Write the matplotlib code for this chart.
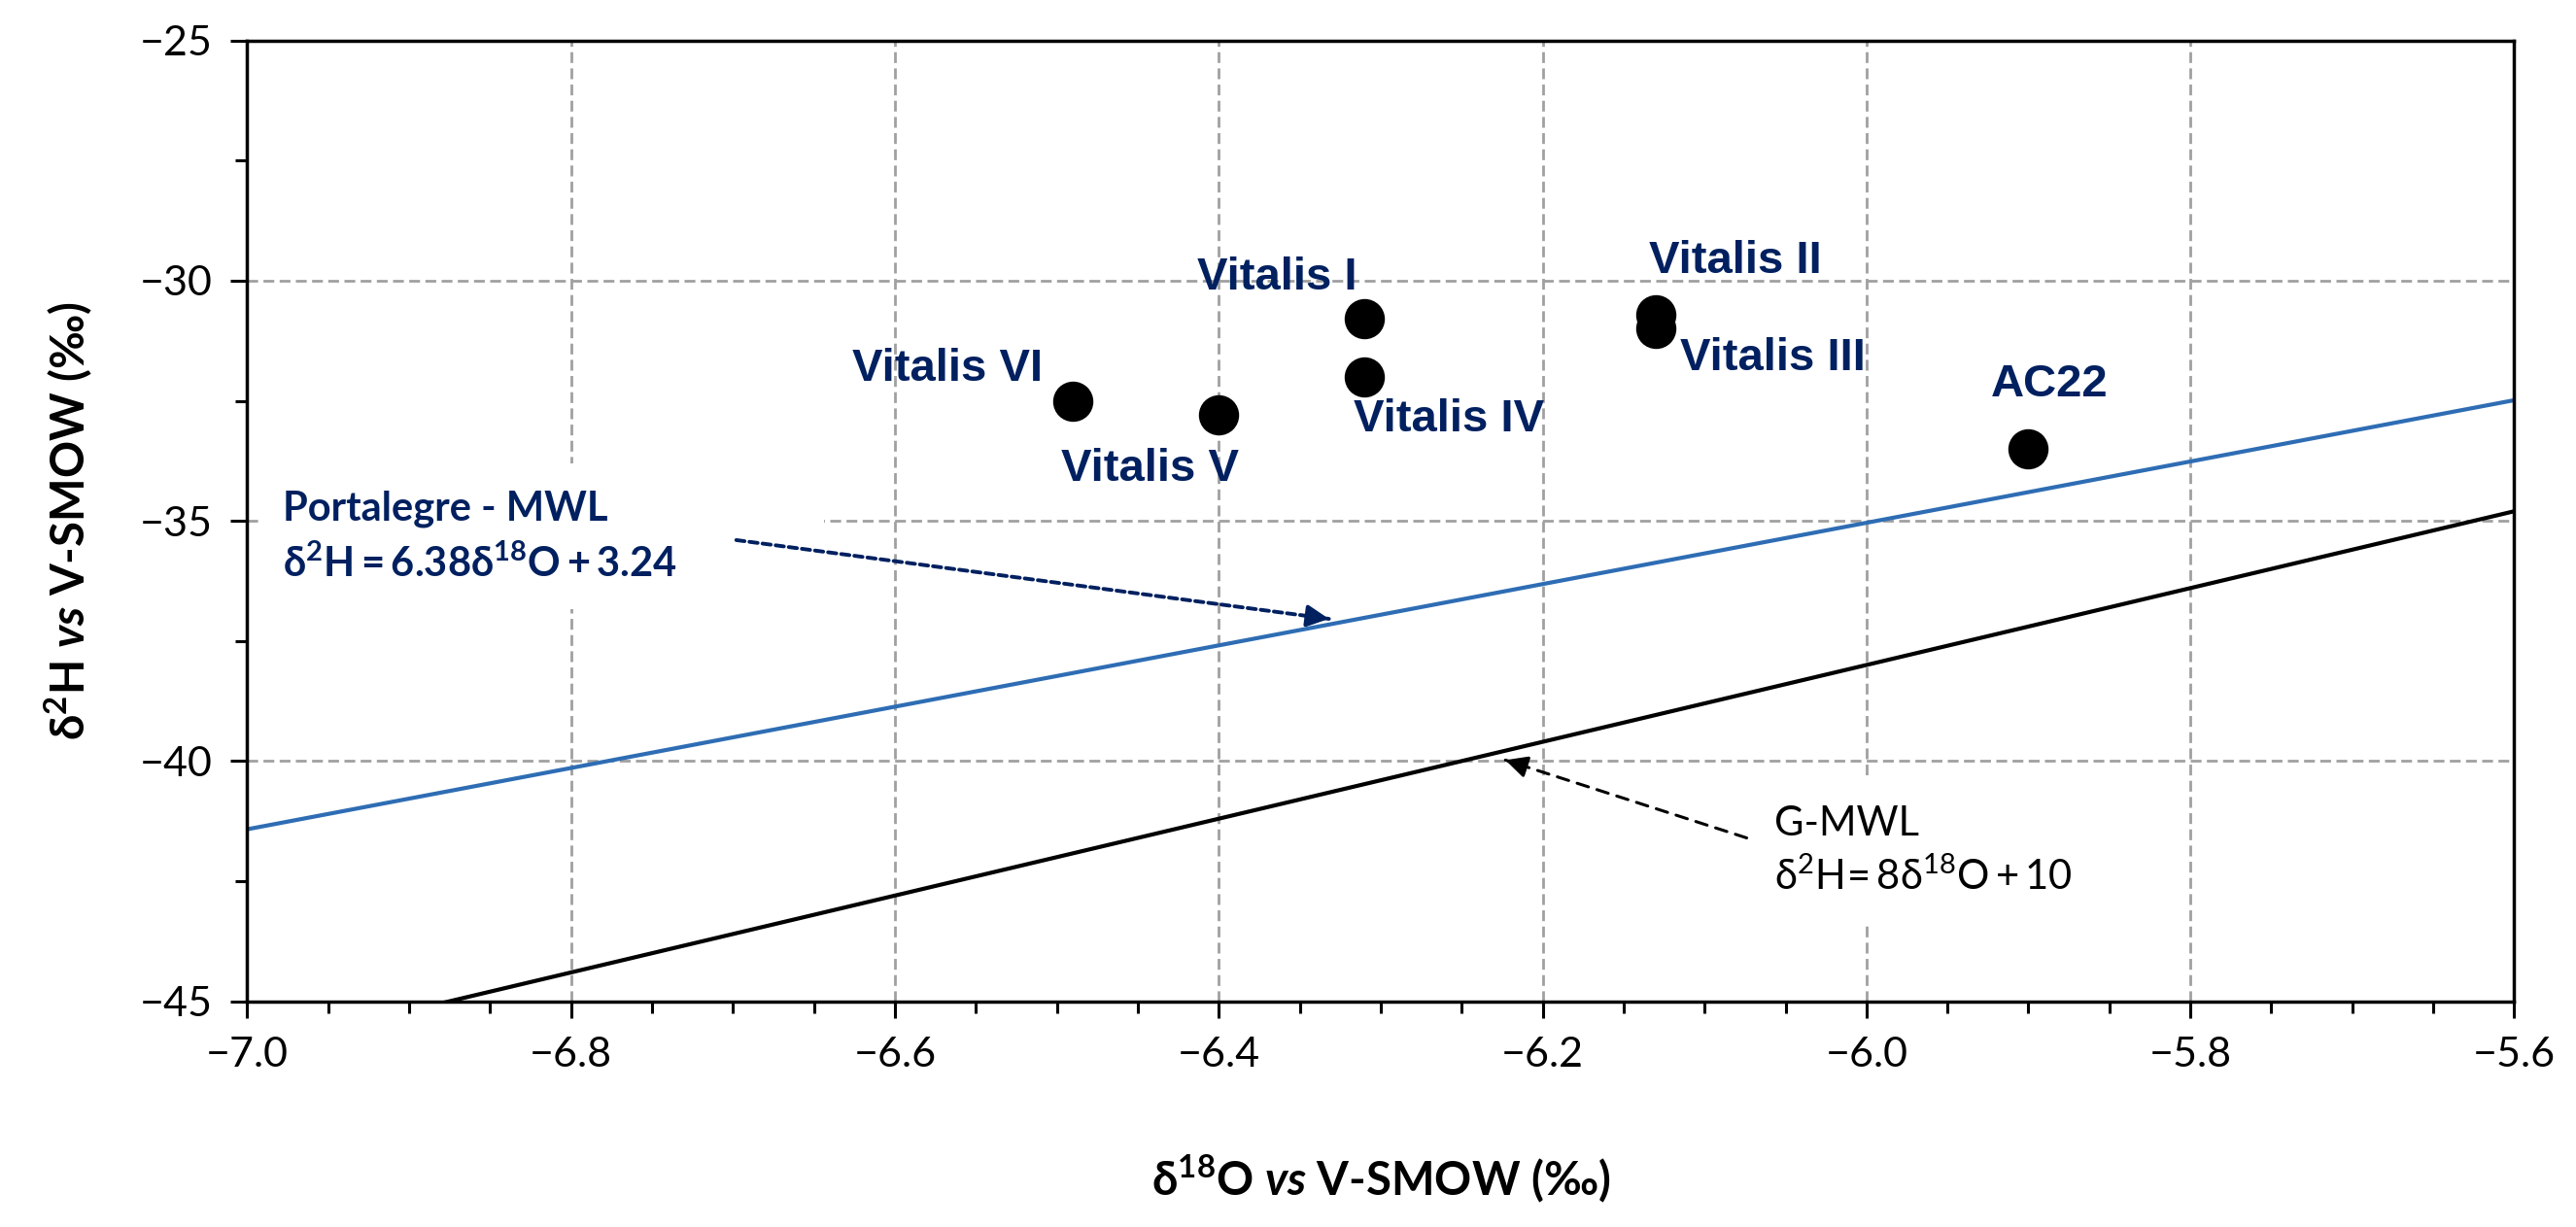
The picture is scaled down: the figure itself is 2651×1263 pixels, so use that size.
import numpy as np
import matplotlib
matplotlib.use("Agg")
import matplotlib.pyplot as plt
from matplotlib.patches import Rectangle
from matplotlib.ticker import FuncFormatter

# sample points
sites = ['Vitalis I', 'Vitalis II', 'Vitalis III', 'Vitalis IV', 'Vitalis V', 'Vitalis VI', 'AC22']
d18O = [-6.31, -6.13, -6.13, -6.31, -6.40, -6.49, -5.90]
d2H = [-30.8, -30.7, -31.0, -32.0, -32.8, -32.5, -33.5]

# meteoric water lines (slope, intercept)
lmwl = (6.38, 3.24)
gmwl = (8.0, 10.0)

x_ticks = [-7.0, -6.8, -6.6, -6.4, -6.2, -6.0, -5.8, -5.6]
y_ticks = [-45, -40, -35, -30, -25]

# label offsets in pixels (label centre relative to point)
label_offsets = [(-90, 42), (82, 55), (120, -31), (87, -44), (-71, -56), (-129, 33), (22, 66)]

navy = '#002060'
blue = '#2E6DB4'
font = 'Lato'

plt.rcParams['font.family'] = [font, 'DejaVu Sans']
plt.rcParams['mathtext.fontset'] = 'custom'
plt.rcParams['mathtext.rm'] = font
plt.rcParams['mathtext.it'] = font + ':italic'
plt.rcParams['mathtext.bf'] = font + ':bold'
plt.rcParams['mathtext.bfit'] = font + ':bold:italic'


def dashed_arrow(ax, tail, tip, color, lw, dash):
    # dashed shaft, solid head
    ax.annotate('', xy=tip, xytext=tail,
                arrowprops=dict(arrowstyle='-', color=color, lw=lw, linestyle=dash,
                                shrinkA=0, shrinkB=0), zorder=4)
    near = (tip[0] - 0.04 * (tip[0] - tail[0]), tip[1] - 0.04 * (tip[1] - tail[1]))
    ax.annotate('', xy=tip, xytext=near,
                arrowprops=dict(arrowstyle='-|>', color=color, lw=lw,
                                mutation_scale=34, shrinkA=0, shrinkB=0), zorder=4)


fig = plt.figure(figsize=(26.51, 12.63), dpi=100)
ax = fig.add_axes([0.096, 0.184, 0.976 - 0.096, 0.967 - 0.184])

ax.set_xlim(-7.0, -5.6)
ax.set_ylim(-45, -25)
ax.set_xticks(x_ticks)
ax.set_yticks(y_ticks)
ax.set_xticks(np.arange(-7.0, -5.59, 0.05), minor=True)
ax.set_yticks(np.arange(-45, -24, 2.5), minor=True)
ax.xaxis.set_major_formatter(FuncFormatter(lambda v, p: f'{v:.1f}'.replace('-', '\u2212')))
ax.yaxis.set_major_formatter(FuncFormatter(lambda v, p: f'{v:.0f}'.replace('-', '\u2212')))

ax.set_axisbelow(True)
ax.grid(True, which='major', color='#A0A0A0', linestyle=(0, (4, 2)), linewidth=2)

for s in ax.spines.values():
    s.set_linewidth(2.5)
ax.tick_params(which='major', direction='out', length=12, width=2.2, labelsize=31, pad=14)
ax.tick_params(which='minor', direction='out', length=8.5, width=2.2)

# white backgrounds of the text boxes
ax.add_patch(Rectangle((-6.991, -36.84), 0.347, 3.03, facecolor='white', edgecolor='none', zorder=1))
ax.add_patch(Rectangle((-6.073, -43.42), 0.222, 3.12, facecolor='white', edgecolor='none', zorder=1))

xs = np.array([-7.0, -5.6])
ax.plot(xs, lmwl[0] * xs + lmwl[1], color=blue, linewidth=3, zorder=2)
ax.plot(xs, gmwl[0] * xs + gmwl[1], color='black', linewidth=3, zorder=2)

ax.scatter(d18O, d2H, s=830, color='black', zorder=3)

for name, x, y, off in zip(sites, d18O, d2H, label_offsets):
    ax.annotate(name, (x, y), xytext=off, textcoords='offset pixels',
                ha='center', va='center', fontsize=34, fontweight='bold',
                color=navy, family=['Liberation Sans Narrow', 'Liberation Sans'], zorder=4)

# Portalegre LMWL text + arrow
ax.text(-6.978, -34.74, 'Portalegre - MWL', fontsize=30, fontweight='bold', color=navy,
        ha='left', va='center', zorder=4)
ax.text(-6.978, -35.89, r'$\mathbf{\delta^{2}H = 6.38\delta^{18}O + 3.24}$', fontsize=30,
        color=navy, ha='left', va='center', zorder=4)
dashed_arrow(ax, (-6.698, -35.40), (-6.332, -37.04), navy, 2.8, (0, (2.2, 1.3)))

# GMWL text + arrow
ax.text(-6.057, -41.3, 'G-MWL', fontsize=30, color='black', ha='left', va='center', zorder=4)
ax.text(-6.057, -42.4, r'$\mathrm{\delta^{2}H\!= 8\delta^{18}O + 10}$', fontsize=30, color='black',
        ha='left', va='center', zorder=4)
dashed_arrow(ax, (-6.074, -41.6), (-6.223, -39.98), 'black', 2.2, (0, (4, 3)))

ax.set_xlabel(r'$\mathbf{\delta^{18}O}$ $\mathbfit{vs}$ $\mathbf{V}$-$\mathbf{SMOW}$ (‰)',
              fontsize=34, fontweight='bold')
ax.set_ylabel(r'$\mathbf{\delta^{2}H}$ $\mathbfit{vs}$ $\mathbf{V}$-$\mathbf{SMOW}$ (‰)',
              fontsize=34, fontweight='bold')
ax.xaxis.set_label_coords(0.5, -0.185)
ax.xaxis.label.set_va('center')
ax.yaxis.set_label_coords(-0.079, 0.5)
ax.yaxis.label.set_va('center')

fig.savefig('out.png', dpi=100)
